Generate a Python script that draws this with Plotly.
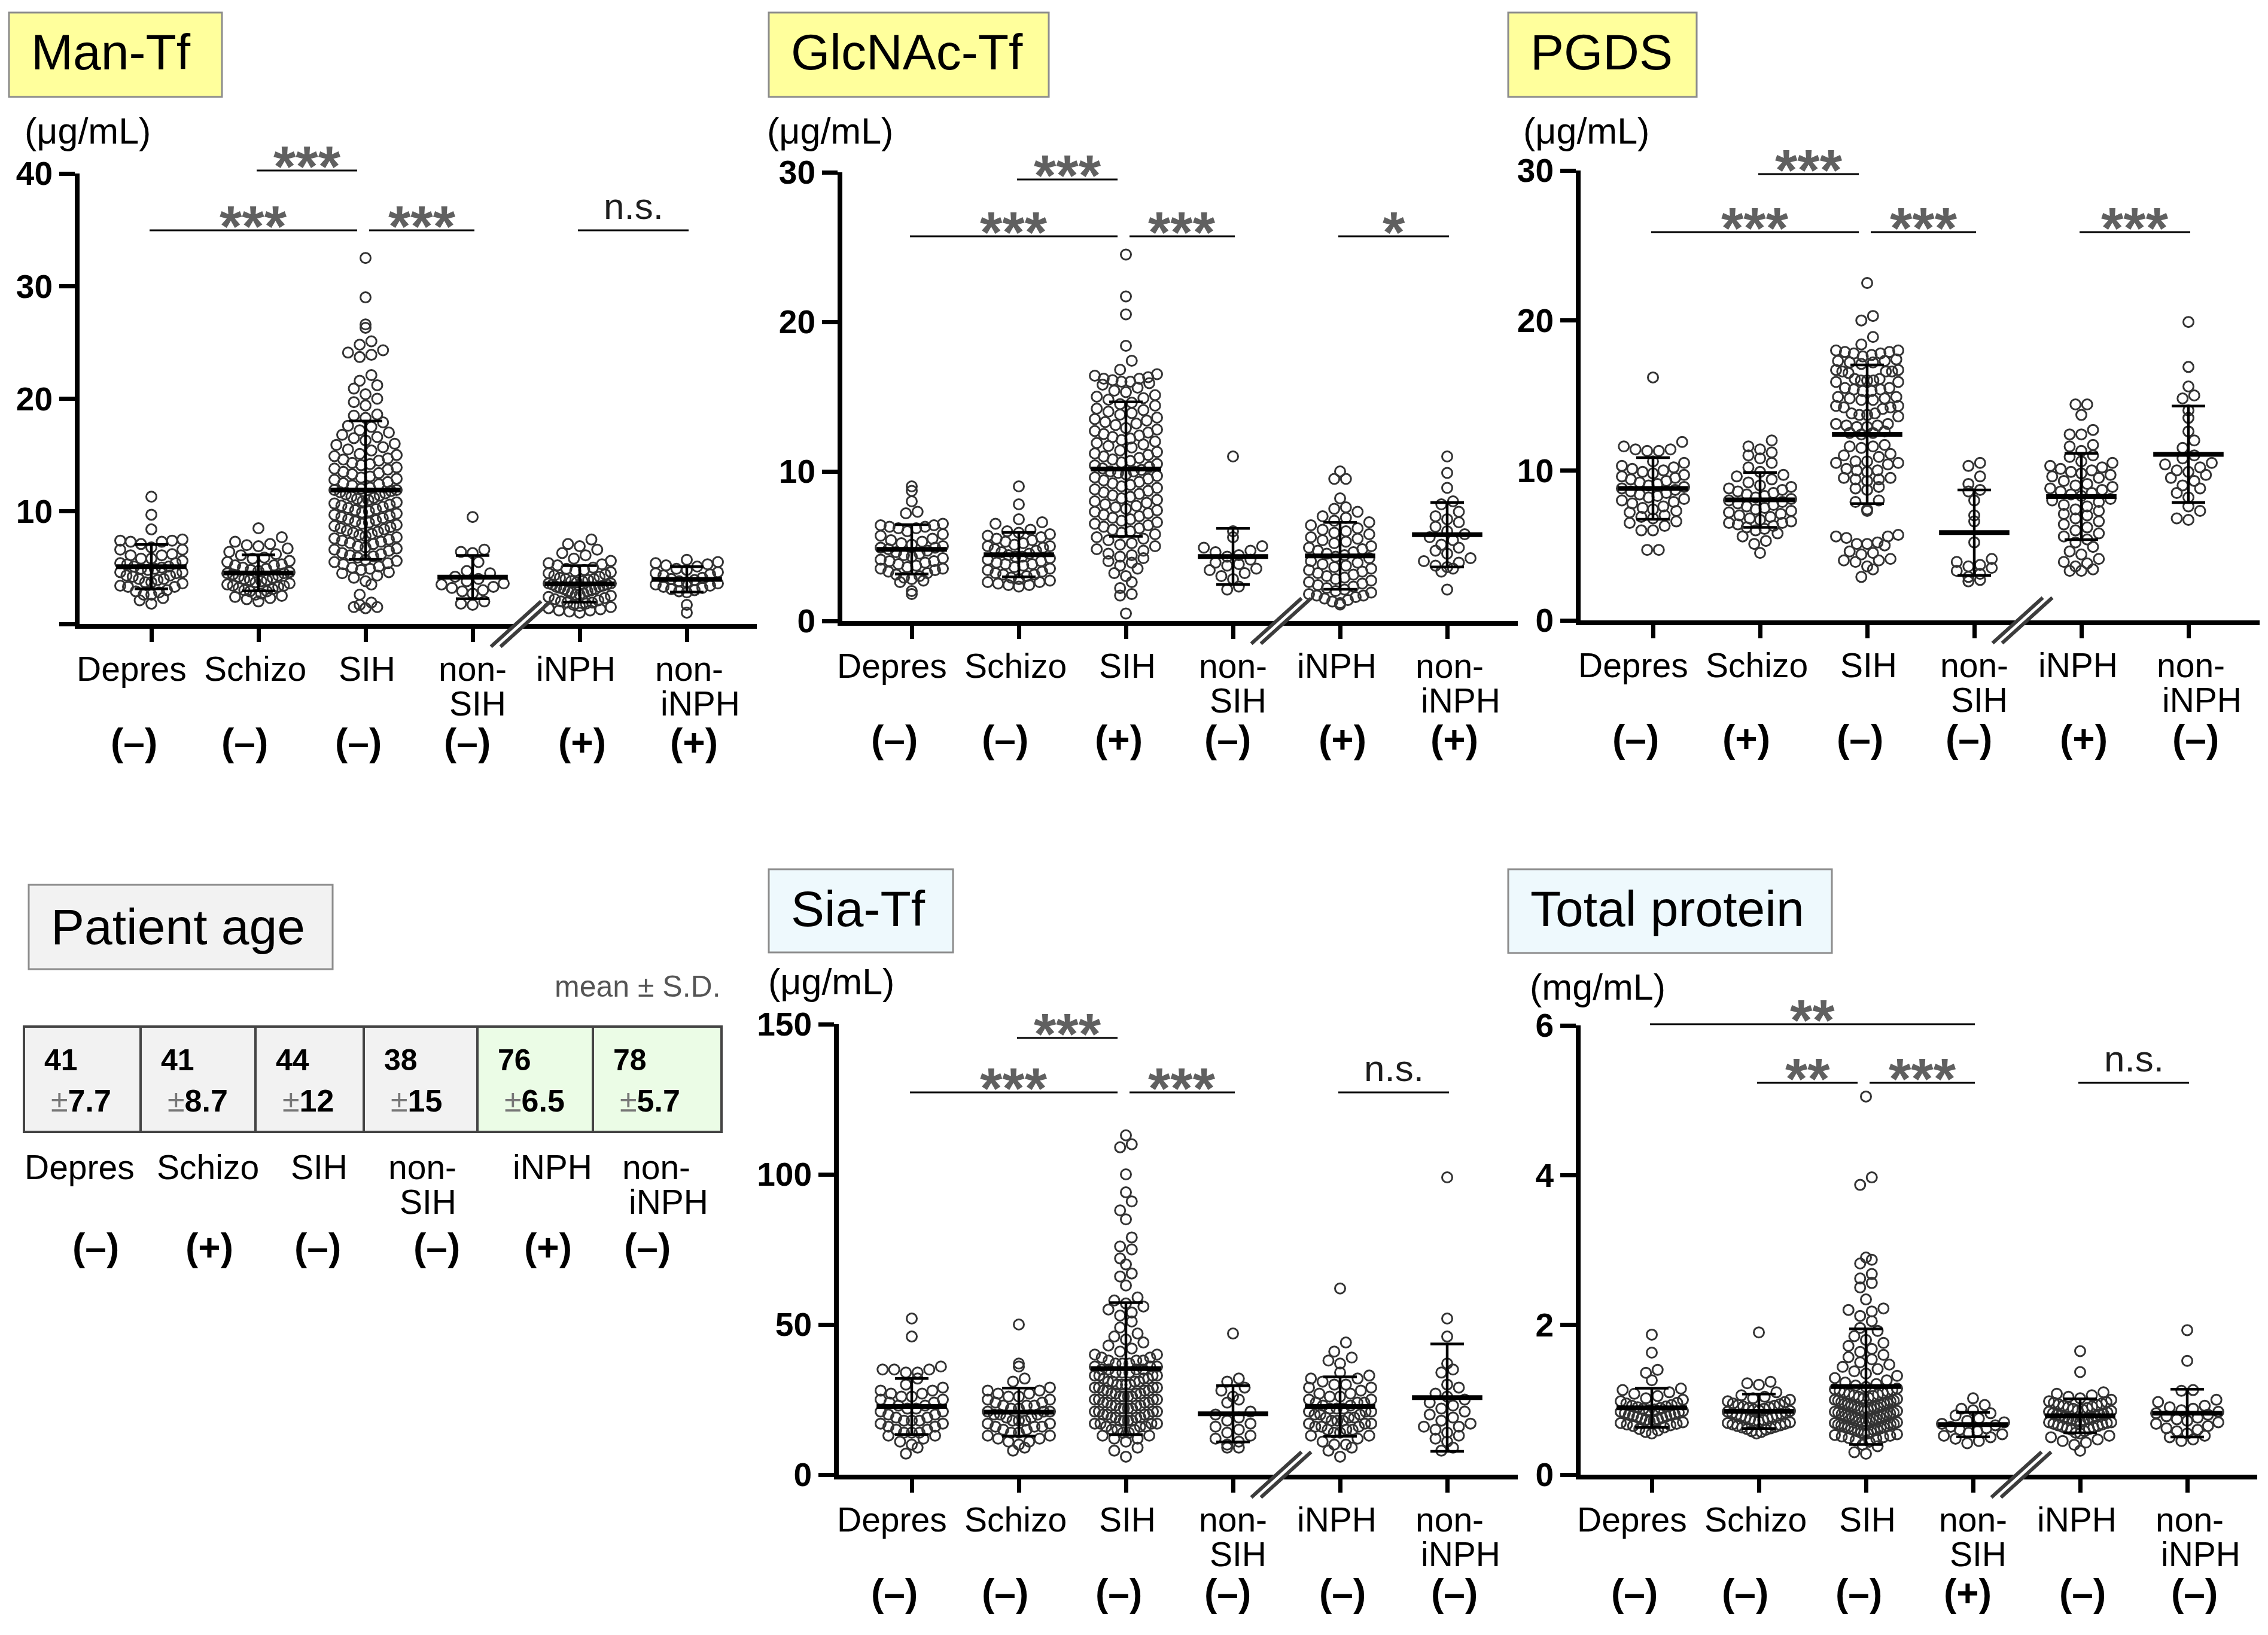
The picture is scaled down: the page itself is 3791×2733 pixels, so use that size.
import numpy as np
import plotly.graph_objects as go

# ---- data ----
GROUPS = ["Depres", "Schizo", "SIH", "non-SIH", "iNPH", "non-iNPH"]

MAN_DEPRES = [11.3, 9.7, 8.4, 7.5, 7.4, 7.4, 7.3, 7.3, 7.1, 6.8, 6.6, 6.6, 6.2, 6.1, 6.1, 5.8, 5.8, 5.6, 5.4, 5.4,
              5.3, 5.1, 5.1, 5.0, 4.9, 4.9, 4.8, 4.6, 4.6, 4.5, 4.3, 4.3, 4.2, 4.0, 4.0, 3.9, 3.7, 3.7, 3.6, 3.4,
              3.3, 3.3, 3.0, 2.9, 2.8, 2.6, 2.6, 2.3, 2.1, 1.8]
MAN_SCHIZO = [8.5, 7.7, 7.3, 7.1, 7.0, 6.9, 6.7, 6.4, 6.2, 6.1, 5.9, 5.8, 5.6, 5.5, 5.3, 5.2, 5.2, 5.0, 4.9, 4.8,
              4.7, 4.6, 4.5, 4.5, 4.4, 4.3, 4.2, 4.1, 4.0, 3.9, 3.9, 3.8, 3.7, 3.6, 3.5, 3.4, 3.4, 3.3, 3.2, 3.1,
              3.0, 2.9, 2.9, 2.7, 2.6, 2.5, 2.4, 2.3, 2.2, 2.0]
MAN_SIH = [32.5, 29.0, 26.6, 26.3, 25.1, 24.8, 24.3, 24.1, 23.9, 23.7, 22.1, 21.6, 21.2, 20.9, 20.4, 20.0, 19.7,
           19.4, 18.6, 18.5, 18.3, 17.9, 17.6, 17.5, 17.2, 17.0, 16.8, 16.6, 16.5, 16.3, 16.0, 15.9, 15.7, 15.5,
           15.4, 15.1, 15.0, 14.9, 14.7, 14.6, 14.5, 14.3, 14.2, 14.1, 13.9, 13.8, 13.7, 13.5, 13.4, 13.3, 13.1,
           13.0, 12.9, 12.8, 12.6, 12.5, 12.4, 12.3, 12.1, 12.0, 11.9, 11.9, 11.8, 11.7, 11.6, 11.5, 11.4, 11.3,
           11.2, 11.1, 11.0, 10.9, 10.8, 10.7, 10.6, 10.5, 10.4, 10.3, 10.2, 10.1, 10.0, 9.9, 9.8, 9.7, 9.6, 9.5,
           9.4, 9.3, 9.2, 9.1, 9.0, 8.9, 8.8, 8.7, 8.6, 8.5, 8.4, 8.3, 8.2, 8.1, 8.0, 7.9, 7.8, 7.7, 7.6, 7.5,
           7.4, 7.3, 7.2, 7.1, 6.9, 6.8, 6.7, 6.6, 6.5, 6.3, 6.2, 6.1, 6.0, 5.9, 5.7, 5.6, 5.5, 5.4, 5.3, 5.1,
           5.0, 4.9, 4.8, 4.6, 4.5, 4.3, 4.1, 3.8, 3.5, 2.6, 1.9, 1.5, 1.4, 1.5, 1.7]
MAN_NONSIH = [9.5, 6.6, 6.4, 6.3, 5.5, 4.7, 4.5, 4.2, 4.0, 3.8, 3.6, 3.5, 3.3, 3.2, 3.0, 2.9, 2.7, 2.0, 1.8, 1.7]
MAN_INPH = [7.5, 7.1, 6.9, 6.6, 6.3, 6.1, 5.8, 5.6, 5.4, 5.3, 5.2, 5.0, 4.9, 4.8, 4.7, 4.6, 4.5, 4.4, 4.3, 4.2,
            4.1, 4.0, 4.0, 3.9, 3.8, 3.8, 3.7, 3.6, 3.6, 3.5, 3.5, 3.4, 3.3, 3.3, 3.2, 3.1, 3.1, 3.0, 2.9, 2.9,
            2.8, 2.7, 2.6, 2.6, 2.5, 2.4, 2.3, 2.2, 2.1, 2.0, 1.9, 1.9, 1.8, 1.7, 1.6, 1.5, 1.4, 1.3, 1.2, 1.1,
            1.0, 1.2]
MAN_NONINPH = [5.7, 5.5, 5.4, 5.3, 5.2, 5.1, 4.9, 4.8, 4.6, 4.5, 4.4, 4.3, 4.1, 4.0, 3.9, 3.8, 3.7, 3.6, 3.5, 3.4,
               3.3, 3.2, 3.1, 3.0, 2.9, 2.8, 1.7, 1.0]
MAN_SIGNS = ["–", "–", "–", "–", "+", "+"]
MAN_SIG = [(1, 2, "***", "hi"), (0, 2, "***", "lo"), (2, 3, "***", "lo"), (4, 5, "n.s.", "lo")]

GLC_DEPRES = [9.0, 8.7, 8.0, 7.3, 7.2, 6.5, 6.4, 6.4, 6.3, 6.3, 6.2, 6.2, 6.0, 5.8, 5.7, 5.5, 5.4, 5.3, 5.2, 5.1,
              5.0, 4.9, 4.9, 4.8, 4.7, 4.6, 4.5, 4.4, 4.3, 4.2, 4.1, 4.0, 4.0, 3.9, 3.8, 3.7, 3.6, 3.5, 3.5, 3.4,
              3.3, 3.2, 3.1, 3.0, 2.9, 2.8, 2.7, 2.6, 2.0, 1.8]
GLC_SCHIZO = [9.0, 7.8, 6.8, 6.6, 6.5, 6.1, 6.0, 5.9, 5.8, 5.7, 5.6, 5.5, 5.4, 5.3, 5.2, 5.1, 5.0, 5.0, 4.9, 4.8,
              4.7, 4.6, 4.5, 4.4, 4.3, 4.3, 4.2, 4.1, 4.0, 3.9, 3.8, 3.8, 3.7, 3.6, 3.5, 3.4, 3.3, 3.2, 3.1, 3.1,
              3.0, 2.9, 2.8, 2.7, 2.6, 2.6, 2.5, 2.4, 2.4, 2.3]
GLC_SIH = [24.5, 21.7, 20.5, 18.4, 17.4, 16.8, 16.5, 16.4, 16.3, 16.2, 16.2, 16.1, 16.0, 16.0, 15.9, 15.8, 15.6,
           15.4, 15.3, 15.1, 15.0, 14.9, 14.8, 14.6, 14.5, 14.4, 14.2, 14.1, 14.0, 13.9, 13.8, 13.6, 13.5, 13.4,
           13.3, 13.2, 13.1, 12.9, 12.8, 12.7, 12.6, 12.5, 12.4, 12.3, 12.2, 12.1, 12.0, 11.9, 11.8, 11.7, 11.6,
           11.4, 11.3, 11.2, 11.1, 11.0, 10.9, 10.8, 10.7, 10.6, 10.5, 10.4, 10.3, 10.2, 10.1, 10.0, 10.0, 9.9,
           9.8, 9.7, 9.6, 9.5, 9.4, 9.3, 9.2, 9.1, 9.0, 8.9, 8.8, 8.7, 8.6, 8.5, 8.4, 8.3, 8.2, 8.1, 8.0, 7.9,
           7.8, 7.7, 7.6, 7.5, 7.4, 7.3, 7.2, 7.1, 7.0, 6.9, 6.8, 6.7, 6.6, 6.5, 6.4, 6.3, 6.2, 6.1, 6.0, 5.9,
           5.8, 5.6, 5.5, 5.4, 5.2, 5.1, 5.0, 4.8, 4.7, 4.5, 4.4, 4.3, 4.2, 4.0, 3.9, 3.7, 3.5, 3.2, 3.0, 2.6,
           2.2, 1.8, 1.7, 0.5]
GLC_NONSIH = [11.0, 6.0, 5.6, 5.0, 4.9, 4.7, 4.6, 4.4, 4.3, 4.1, 3.9, 3.8, 3.7, 3.5, 3.4, 3.2, 3.0, 2.8, 2.3, 2.1]
GLC_INPH = [10.0, 9.5, 9.5, 8.2, 7.6, 7.5, 7.3, 7.0, 6.9, 6.7, 6.6, 6.4, 6.2, 6.1, 6.0, 5.9, 5.8, 5.6, 5.5, 5.4,
            5.3, 5.2, 5.0, 4.9, 4.8, 4.7, 4.6, 4.5, 4.4, 4.3, 4.2, 4.0, 3.9, 3.8, 3.7, 3.6, 3.5, 3.4, 3.3, 3.2,
            3.1, 3.0, 2.9, 2.8, 2.7, 2.6, 2.5, 2.4, 2.3, 2.2, 2.1, 2.0, 1.9, 1.8, 1.7, 1.6, 1.5, 1.4, 1.3, 1.2,
            1.1, 1.7]
GLC_NONINPH = [11.0, 9.9, 8.9, 8.0, 7.8, 7.3, 7.0, 6.8, 6.6, 6.3, 6.0, 5.8, 5.6, 5.4, 5.1, 4.9, 4.7, 4.5, 4.2,
               4.0, 3.9, 3.7, 3.6, 3.5, 3.3, 2.1]
GLC_SIGNS = ["–", "–", "+", "–", "+", "+"]
GLC_SIG = [(1, 2, "***", "hi"), (0, 2, "***", "lo"), (2, 3, "***", "lo"), (4, 5, "*", "lo")]

PGDS_DEPRES = [16.2, 11.9, 11.6, 11.4, 11.4, 11.3, 11.3, 10.6, 10.5, 10.3, 10.2, 10.1, 10.0, 9.9, 9.8, 9.7, 9.6,
               9.5, 9.4, 9.3, 9.2, 9.1, 9.0, 8.9, 8.8, 8.7, 8.6, 8.5, 8.4, 8.3, 8.2, 8.1, 8.0, 7.9, 7.8, 7.6, 7.5,
               7.4, 7.3, 7.2, 7.0, 6.9, 6.8, 6.6, 6.5, 6.3, 6.0, 6.0, 4.7, 4.7]
PGDS_SCHIZO = [12.0, 11.6, 11.4, 11.2, 11.0, 10.8, 10.5, 10.2, 9.9, 9.7, 9.6, 9.4, 9.2, 9.0, 8.9, 8.8, 8.7, 8.6,
               8.5, 8.4, 8.3, 8.2, 8.1, 8.0, 7.9, 7.8, 7.7, 7.6, 7.5, 7.4, 7.3, 7.2, 7.1, 7.0, 6.9, 6.8, 6.7, 6.6,
               6.5, 6.5, 6.4, 6.3, 6.2, 6.1, 6.0, 5.8, 5.6, 5.3, 5.1, 4.5]
PGDS_SIH = [22.5, 20.3, 20.0, 18.9, 18.4, 18.0, 17.9, 17.9, 17.8, 17.8, 18.0, 17.6, 17.7, 17.4, 17.3, 17.2, 17.1,
            17.3, 17.2, 16.7, 16.6, 16.6, 16.5, 16.7, 16.6, 16.1, 16.0, 16.0, 15.9, 16.1, 16.0, 15.9, 15.5, 15.4,
            15.3, 15.4, 15.5, 15.3, 14.9, 14.8, 14.7, 14.8, 14.9, 14.7, 14.3, 14.2, 14.1, 14.2, 14.3, 13.8, 13.7,
            13.6, 13.7, 13.8, 13.1, 13.0, 12.9, 13.0, 13.1, 12.9, 12.6, 12.5, 12.4, 12.5, 11.7, 11.6, 11.5, 11.6,
            11.1, 11.0, 10.9, 10.6, 10.5, 10.4, 10.5, 10.6, 10.1, 10.0, 9.9, 10.0, 9.5, 9.4, 9.3, 9.4, 9.5, 8.9,
            8.8, 8.7, 8.0, 7.9, 7.4, 7.3, 5.7, 5.6, 5.5, 5.6, 5.2, 5.1, 5.0, 5.1, 4.6, 4.5, 4.4, 4.1, 4.0, 3.9,
            4.0, 3.6, 3.4, 2.9]
PGDS_NONSIH = [10.5, 10.3, 9.6, 9.1, 8.7, 8.6, 8.0, 7.0, 6.6, 5.2, 4.1, 3.9, 3.7, 3.6, 3.5, 3.3, 3.1, 2.9, 2.6, 2.7]
PGDS_INPH = [14.4, 14.4, 13.7, 12.7, 12.4, 12.4, 11.7, 11.6, 11.3, 11.0, 10.9, 10.6, 10.5, 10.3, 10.2, 10.1, 10.0,
             9.9, 9.8, 9.7, 9.6, 9.5, 9.3, 9.1, 9.0, 8.9, 8.8, 8.7, 8.6, 8.5, 8.4, 8.3, 8.1, 8.0, 7.9, 7.7, 7.6,
             7.4, 7.3, 7.1, 7.0, 6.8, 6.6, 6.4, 6.2, 6.0, 5.8, 5.6, 5.4, 5.2, 4.9, 4.6, 4.4, 4.1, 3.9, 3.8, 3.6,
             3.4, 3.3, 3.3]
PGDS_NONINPH = [19.9, 16.9, 15.6, 15.0, 14.8, 14.0, 13.5, 12.6, 12.0, 11.5, 11.0, 10.8, 10.5, 10.4, 10.2, 10.0,
                9.9, 9.7, 9.5, 9.3, 9.0, 8.8, 8.5, 8.2, 7.6, 7.3, 6.8, 6.7]
PGDS_SIGNS = ["–", "+", "–", "–", "+", "–"]
PGDS_SIG = [(1, 2, "***", "hi"), (0, 2, "***", "lo"), (2, 3, "***", "lo"), (4, 5, "***", "lo")]

SIA_DEPRES = [52, 46, 36, 35, 35, 35, 34, 34, 32, 30, 29, 28, 28, 27, 27, 26, 26, 25, 25, 24, 24, 23, 23, 22, 22,
              21, 21, 20, 20, 19, 19, 18, 18, 18, 17, 17, 16, 16, 15, 15, 14, 14, 14, 13, 13, 12, 11, 10, 9, 7]
SIA_SCHIZO = [50, 37, 36, 32, 31, 29, 28, 28, 27, 27, 26, 26, 25, 25, 24, 24, 23, 23, 23, 22, 22, 21, 21, 21, 20,
              20, 20, 19, 19, 18, 18, 18, 17, 17, 16, 16, 16, 15, 15, 14, 14, 13, 13, 12, 12, 11, 11, 10, 9, 8]
SIA_SIH = [113, 110, 109, 100, 94, 91, 88, 85, 79, 76, 75, 72, 70, 67, 66, 63, 59, 58, 57, 56, 55, 54, 53, 51, 49,
           47, 46, 45, 44, 43, 42, 41, 40, 40, 39, 39, 38, 38, 38, 37, 37, 37, 36, 36, 36, 35, 35, 35, 35, 34, 34,
           34, 33, 33, 33, 33, 32, 32, 32, 31, 31, 31, 31, 30, 30, 30, 30, 29, 29, 29, 29, 28, 28, 28, 28, 27, 27,
           27, 27, 26, 26, 26, 26, 25, 25, 25, 25, 24, 24, 24, 24, 23, 23, 23, 23, 22, 22, 22, 22, 21, 21, 21, 21,
           20, 20, 20, 20, 19, 19, 19, 19, 18, 18, 18, 18, 17, 17, 17, 17, 16, 16, 16, 15, 15, 15, 14, 14, 13, 13,
           12, 12, 11, 9, 8, 6]
SIA_NONSIH = [47, 32, 31, 29, 28, 26, 25, 24, 21, 20, 19, 18, 17, 16, 15, 14, 13, 12, 11, 10, 9, 9]
SIA_INPH = [62, 44, 41, 39, 38, 37, 34, 33, 32, 32, 31, 30, 30, 29, 29, 28, 27, 27, 26, 26, 25, 25, 24, 24, 24, 23,
            23, 22, 22, 22, 21, 21, 21, 20, 20, 20, 19, 19, 19, 18, 18, 18, 17, 17, 17, 16, 16, 16, 15, 15, 15, 14,
            14, 13, 13, 12, 11, 10, 10, 9, 8, 6]
SIA_NONINPH = [99, 52, 46, 37, 35, 34, 30, 29, 27, 26, 25, 24, 23, 22, 21, 20, 19, 18, 17, 16, 16, 15, 14, 13, 12,
               11, 9, 8]
SIA_SIGNS = ["–", "–", "–", "–", "–", "–"]
SIA_SIG = [(1, 2, "***", "hi"), (0, 2, "***", "lo"), (2, 3, "***", "lo"), (4, 5, "n.s.", "lo")]

TP_DEPRES = [1.87, 1.63, 1.40, 1.36, 1.26, 1.15, 1.13, 1.10, 1.08, 1.05, 1.02, 1.00, 0.98, 0.96, 0.95, 0.93, 0.92,
             0.91, 0.90, 0.89, 0.88, 0.87, 0.86, 0.85, 0.84, 0.83, 0.82, 0.81, 0.80, 0.80, 0.79, 0.78, 0.77, 0.76,
             0.75, 0.74, 0.73, 0.72, 0.71, 0.70, 0.69, 0.68, 0.67, 0.66, 0.65, 0.63, 0.61, 0.59, 0.57, 0.55]
TP_SCHIZO = [1.90, 1.24, 1.22, 1.20, 1.10, 1.06, 1.04, 1.02, 1.00, 0.98, 0.97, 0.95, 0.94, 0.93, 0.92, 0.91, 0.90,
             0.89, 0.88, 0.87, 0.86, 0.85, 0.84, 0.83, 0.82, 0.81, 0.80, 0.79, 0.78, 0.77, 0.76, 0.75, 0.74, 0.73,
             0.72, 0.71, 0.70, 0.69, 0.68, 0.67, 0.66, 0.65, 0.64, 0.63, 0.62, 0.61, 0.60, 0.58, 0.57, 0.55]
TP_SIH = [5.05, 3.97, 3.87, 2.90, 2.87, 2.82, 2.68, 2.62, 2.56, 2.50, 2.34, 2.22, 2.20, 2.18, 2.12, 2.05, 1.96,
          1.92, 1.85, 1.80, 1.76, 1.72, 1.68, 1.64, 1.60, 1.57, 1.54, 1.50, 1.47, 1.44, 1.41, 1.38, 1.35, 1.32,
          1.29, 1.26, 1.23, 1.21, 1.19, 1.17, 1.15, 1.14, 1.13, 1.12, 1.11, 1.10, 1.09, 1.08, 1.07, 1.06, 1.05,
          1.04, 1.03, 1.02, 1.01, 1.00, 0.99, 0.99, 0.98, 0.97, 0.96, 0.95, 0.95, 0.94, 0.93, 0.92, 0.91, 0.91,
          0.90, 0.89, 0.88, 0.87, 0.87, 0.86, 0.85, 0.84, 0.83, 0.83, 0.82, 0.81, 0.80, 0.79, 0.79, 0.78, 0.77,
          0.76, 0.75, 0.75, 0.74, 0.73, 0.72, 0.71, 0.71, 0.70, 0.69, 0.68, 0.67, 0.67, 0.66, 0.65, 0.64, 0.63,
          0.63, 0.62, 0.61, 0.60, 0.59, 0.59, 0.58, 0.57, 0.56, 0.55, 0.55, 0.54, 0.53, 0.52, 0.51, 0.50, 0.49,
          0.48, 0.46, 0.44, 0.40, 0.38, 0.30, 0.28]
TP_NONSIH = [1.02, 0.93, 0.88, 0.86, 0.82, 0.79, 0.75, 0.72, 0.70, 0.68, 0.66, 0.64, 0.62, 0.60, 0.58, 0.56, 0.54,
             0.52, 0.50, 0.48, 0.45, 0.42]
TP_INPH = [1.65, 1.37, 1.10, 1.08, 1.06, 1.04, 1.02, 1.00, 0.98, 0.97, 0.96, 0.95, 0.94, 0.93, 0.92, 0.91, 0.90,
           0.89, 0.88, 0.87, 0.86, 0.85, 0.84, 0.83, 0.82, 0.81, 0.80, 0.80, 0.79, 0.78, 0.77, 0.76, 0.75, 0.75,
           0.74, 0.73, 0.72, 0.71, 0.70, 0.70, 0.69, 0.68, 0.67, 0.66, 0.65, 0.64, 0.63, 0.62, 0.61, 0.60, 0.58,
           0.56, 0.55, 0.52, 0.50, 0.47, 0.45, 0.43, 0.40, 0.32]
TP_NONINPH = [1.93, 1.52, 1.13, 1.12, 1.00, 0.97, 0.92, 0.90, 0.88, 0.86, 0.84, 0.82, 0.80, 0.78, 0.76, 0.74, 0.72,
              0.70, 0.68, 0.65, 0.62, 0.60, 0.58, 0.55, 0.52, 0.50, 0.47, 0.45]
TP_SIGNS = ["–", "–", "–", "+", "–", "–"]
TP_SIG = [(0, 3, "**", "hi"), (1, 2, "**", "lo"), (2, 3, "***", "lo"), (4, 5, "n.s.", "lo")]

AGE_MEAN = [41, 41, 44, 38, 76, 78]
AGE_SD = ["7.7", "8.7", "12", "15", "6.5", "5.7"]
AGE_SIGNS = ["–", "+", "–", "–", "+", "–"]

# ---- layout (pixel geometry of the page) ----
W, H = 3791, 2733
FONT = "Liberation Sans, Arial, Helvetica, sans-serif"
SP = 179  # px between group ticks


def px(x):
    return x / W


def py(y):
    return 1 - y / H


panels = [
    dict(title="Man-Tf", fill="#ffff9c", box=(15, 21, 371, 162), tbase=116,
         unit="(μg/mL)", ux=40, ubase=240,
         groups=[MAN_DEPRES, MAN_SCHIZO, MAN_SIH, MAN_NONSIH, MAN_INPH, MAN_NONINPH],
         signs=MAN_SIGNS, sig=MAN_SIG, ymax=40, dtick=10, zero=False,
         ax=133, g0=253, xend=1265, y0=1043, ytop=290, hi=285, lo=385),
    dict(title="GlcNAc-Tf", fill="#ffff9c", box=(1285, 21, 1753, 162), tbase=116,
         unit="(μg/mL)", ux=1281, ubase=240,
         groups=[GLC_DEPRES, GLC_SCHIZO, GLC_SIH, GLC_NONSIH, GLC_INPH, GLC_NONINPH],
         signs=GLC_SIGNS, sig=GLC_SIG, ymax=30, dtick=10, zero=True,
         ax=1408, g0=1524, xend=2537, y0=1038, ytop=288, hi=300, lo=395),
    dict(title="PGDS", fill="#ffff9c", box=(2521, 21, 2836, 162), tbase=116,
         unit="(μg/mL)", ux=2545, ubase=240,
         groups=[PGDS_DEPRES, PGDS_SCHIZO, PGDS_SIH, PGDS_NONSIH, PGDS_INPH, PGDS_NONINPH],
         signs=PGDS_SIGNS, sig=PGDS_SIG, ymax=30, dtick=10, zero=True,
         ax=2642, g0=2763, xend=3777, y0=1037, ytop=285, hi=291, lo=388),
    dict(title="Sia-Tf", fill="#eef9fd", box=(1285, 1453, 1593, 1592), tbase=1548,
         unit="(μg/mL)", ux=1283, ubase=1662,
         groups=[SIA_DEPRES, SIA_SCHIZO, SIA_SIH, SIA_NONSIH, SIA_INPH, SIA_NONINPH],
         signs=SIA_SIGNS, sig=SIA_SIG, ymax=150, dtick=50, zero=True,
         ax=1402, g0=1524, xend=2537, y0=2465, ytop=1712, hi=1735, lo=1826),
    dict(title="Total protein", fill="#eef9fd", box=(2521, 1453, 3062, 1593), tbase=1548,
         unit="(mg/mL)", ux=2556, ubase=1671,
         groups=[TP_DEPRES, TP_SCHIZO, TP_SIH, TP_NONSIH, TP_INPH, TP_NONINPH],
         signs=TP_SIGNS, sig=TP_SIG, ymax=6, dtick=2, zero=True,
         ax=2642, g0=2761, xend=3773, y0=2465, ytop=1714, hi=1712, lo=1810),
]

LABEL_DX = [-33, -6, 2, None, -6, None]
SIGN_DX = [-29, -23, -12, -9, 4, 12]

fig = go.Figure()
shapes, anns = [], []


def txt(x, base, s, size, color="black", anchor="center", xref="paper"):
    # place a single line of text so that its baseline sits at pixel row `base`
    anns.append(dict(x=x, y=py(base - 0.3465 * size), xref=xref, yref="paper", text=s,
                     showarrow=False, xanchor=anchor, yanchor="middle", borderpad=0,
                     font=dict(family=FONT, size=size, color=color)))


def swarm(vals, ppu, d=19.5, half=52.0):
    v = np.asarray(vals, float)
    rows = np.round(v * ppu / d).astype(int)
    off = np.zeros(len(v))
    for r in np.unique(rows):
        idx = np.where(rows == r)[0]
        idx = idx[np.argsort(v[idx])]
        n = len(idx)
        step = d if n < 2 else min(d, 2 * half / (n - 1))
        slots = np.arange(n) - (n - 1) / 2
        slots = slots[np.argsort(np.abs(slots), kind="stable")]
        off[idx] = slots * step
    return off


def title_box(box, fill, text, base):
    x0, y0, x1, y1 = box
    shapes.append(dict(type="rect", xref="paper", yref="paper", x0=px(x0), x1=px(x1), y0=py(y1), y1=py(y0),
                       fillcolor=fill, line=dict(color="#8c8c8c", width=3), layer="below"))
    txt(px(x0 + 36), base, text, 84, anchor="left")


for k, p in enumerate(panels, start=1):
    xa, ya = f"x{k}", f"y{k}"
    xr = [(p["ax"] - p["g0"]) / SP, (p["xend"] - p["g0"]) / SP]
    ppu = (p["y0"] - p["ytop"]) / p["ymax"]
    yt = list(np.arange(0, p["ymax"] + 1e-9, p["dtick"]))
    fig.update_layout({
        f"xaxis{k}": dict(domain=[px(p["ax"]), px(p["xend"])], range=xr, anchor=ya, automargin=False,
                          showline=True, linewidth=8, linecolor="black", ticks="outside",
                          ticklen=22, tickwidth=7, tickcolor="black", tickvals=list(range(6)),
                          showticklabels=False, showgrid=False, zeroline=False, fixedrange=True),
        f"yaxis{k}": dict(domain=[py(p["y0"]), py(p["ytop"])], range=[0, p["ymax"]], anchor=xa,
                          automargin=False,
                          showline=True, linewidth=8, linecolor="black", ticks="outside",
                          ticklen=26, tickwidth=7, tickcolor="black", tickvals=yt,
                          ticktext=[("" if (v == 0 and not p["zero"]) else f"{v:g}") for v in yt],
                          tickfont=dict(family=FONT, size=55, color="black", weight="bold"),
                          showgrid=False, zeroline=False, fixedrange=True),
    })
    means, sds = [], []
    for i, vals in enumerate(p["groups"]):
        off = swarm(vals, ppu)
        fig.add_trace(go.Scatter(x=i + off / SP, y=vals, xaxis=xa, yaxis=ya, mode="markers",
                                 marker=dict(symbol="circle-open", size=17, color="#333333",
                                             line=dict(width=3)),
                                 hoverinfo="skip"))
        means.append(float(np.mean(vals)))
        sds.append(float(np.std(vals, ddof=1)))
    fig.add_trace(go.Scatter(x=list(range(6)), y=means, xaxis=xa, yaxis=ya, mode="markers",
                             marker=dict(symbol="line-ew", size=84, color="black",
                                         line=dict(width=8, color="black")),
                             error_y=dict(type="data", array=sds, color="black", thickness=4.5, width=28),
                             hoverinfo="skip"))

    title_box(p["box"], p["fill"], p["title"], p["tbase"])
    txt(px(p["ux"]), p["ubase"], p["unit"], 61, anchor="left")

    tick = [p["g0"] + i * SP for i in range(6)]
    # group labels
    for i, g in enumerate(GROUPS):
        if LABEL_DX[i] is not None:
            txt(px(tick[i] + LABEL_DX[i]), p["y0"] + 95, g, 57)
    txt(px(tick[3]), p["y0"] + 95, "non-", 57)
    txt(px(tick[3] + 8), p["y0"] + 153, "SIH", 57)
    txt(px(tick[5] + 4), p["y0"] + 95, "non-", 57)
    txt(px(tick[5] + 22), p["y0"] + 153, "iNPH", 57)
    for i, s in enumerate(p["signs"]):
        txt(px(tick[i] + SIGN_DX[i]), p["y0"] + 220, f"<b>({s})</b>", 64)

    # significance brackets
    for a, b, lab, lev in p["sig"]:
        yl = p[lev]
        x0 = tick[a] + (6 if a == 2 else -3)
        x1 = tick[b] + (-14 if b == 2 else 3)
        shapes.append(dict(type="line", xref="paper", yref="paper", x0=px(x0), x1=px(x1),
                           y0=py(yl), y1=py(yl), line=dict(color="black", width=3)))
        xm = px((x0 + x1) / 2)
        if lab == "n.s.":
            txt(xm, yl - 19, "n.s.", 62, color="#1e1e1e")
        else:
            txt(xm, yl + 26, f"<b>{lab}</b>", 96, color="#606060")

    # axis break mark between non-SIH and iNPH
    cx, cy = p["g0"] + 3.45 * SP, p["y0"]
    shapes.append(dict(type="line", xref="paper", yref="paper", x0=px(cx - 36), y0=py(cy + 32),
                       x1=px(cx + 36), y1=py(cy - 32), line=dict(color="white", width=10)))
    for dx in (-8, 8):
        shapes.append(dict(type="line", xref="paper", yref="paper", x0=px(cx - 42 + dx), y0=py(cy + 38),
                           x1=px(cx + 42 + dx), y1=py(cy - 38), line=dict(color="#3c3c3c", width=6)))

# ---- patient age table ----
title_box((48, 1479, 556, 1620), "#f2f2f2", "Patient age", 1578)
txt(px(1206), 1666, "mean ± S.D.", 50, color="#555", anchor="right")
cells = [40, 235, 427, 608, 798, 991, 1206]
for i in range(6):
    shapes.append(dict(type="rect", xref="paper", yref="paper", x0=px(cells[i]), x1=px(cells[i + 1]),
                       y0=py(1892), y1=py(1716), fillcolor="#f2f2f2" if i < 4 else "#ebfce6",
                       line=dict(color="#444", width=4), layer="below"))
    txt(px(cells[i] + 33), 1789, f"<b>{AGE_MEAN[i]}</b>", 50, anchor="left")
    txt(px(cells[i] + 44), 1858, f"<span style='color:#777'>±</span><b>{AGE_SD[i]}</b>", 52, anchor="left")

age_lbl = [133, 347, 533, None, 923, None]
for i, g in enumerate(GROUPS):
    if age_lbl[i] is not None:
        txt(px(age_lbl[i]), 1971, g, 57)
txt(px(706), 1971, "non-", 57)
txt(px(715), 2029, "SIH", 57)
txt(px(1097), 1971, "non-", 57)
txt(px(1117), 2029, "iNPH", 57)
for s, x in zip(AGE_SIGNS, [160, 350, 531, 730, 916, 1082]):
    txt(px(x), 2107, f"<b>({s})</b>", 64)

fig.update_layout(width=W, height=H, autosize=False,
                  margin=dict(l=0, r=0, t=0, b=0, pad=0, autoexpand=False), showlegend=False,
                  paper_bgcolor="white", plot_bgcolor="white", shapes=shapes, annotations=anns)

fig.write_html("out.html", config={"displayModeBar": False, "staticPlot": True},
               post_script="document.documentElement.style.margin='0';"
                           "document.body.style.margin='0';document.body.style.padding='0';"
                           "document.body.style.overflow='hidden';")
